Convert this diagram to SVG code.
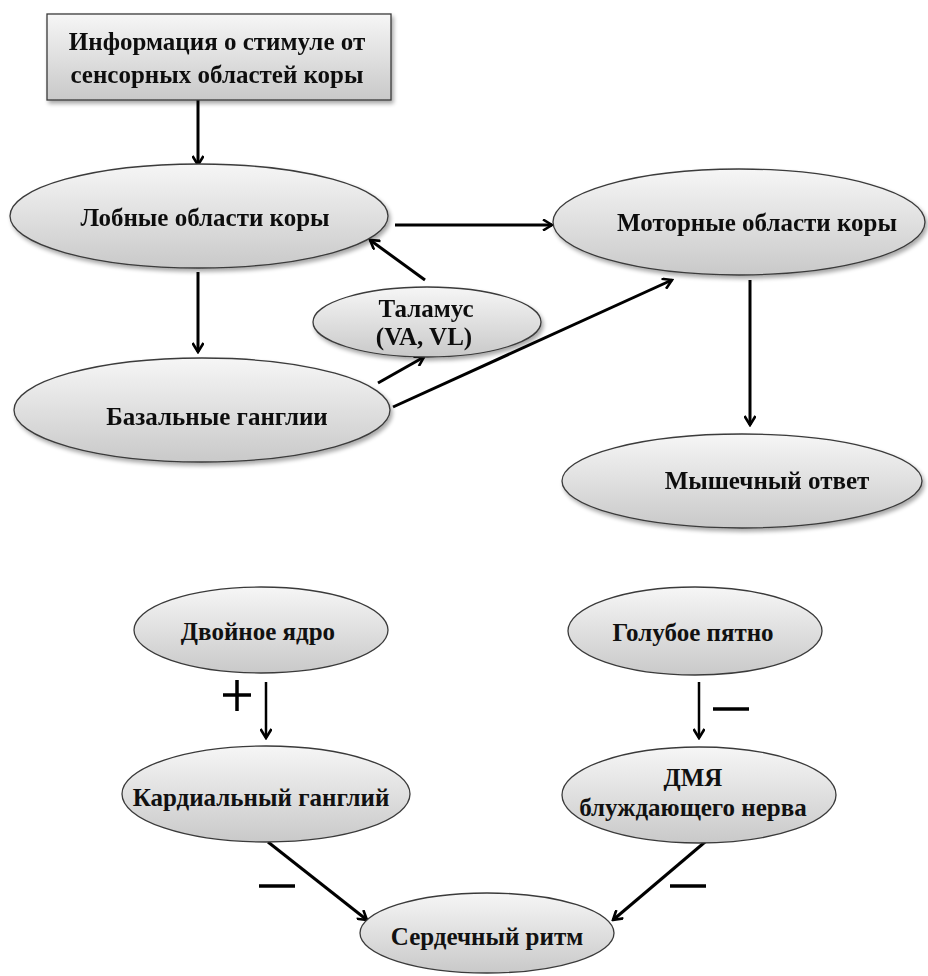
<svg xmlns="http://www.w3.org/2000/svg" width="928" height="976" viewBox="0 0 928 976">
<style>
.node{fill:url(#g);stroke:#3a3a3a;stroke-width:1.3}
.t{font-family:"Liberation Serif","Times New Roman",serif;font-weight:bold;font-size:25px;fill:#111;text-anchor:middle}
.c{stroke:#000;stroke-width:3;fill:none;marker-end:url(#a)}
.c2{stroke:#000;stroke-width:2.5;fill:none;marker-end:url(#a)}
.sign{stroke:#000;stroke-width:3.5;fill:none}
</style>
<defs>
<linearGradient id="g" x1="0" y1="0" x2="0" y2="1">
<stop offset="0" stop-color="#f6f6f6"/>
<stop offset="1" stop-color="#c9c9c9"/>
</linearGradient>
<marker id="a" viewBox="0 0 12 12" refX="10" refY="6" markerWidth="12" markerHeight="12" markerUnits="userSpaceOnUse" orient="auto">
<polyline points="1,0.5 10,6 1,11.5" fill="none" stroke="#000" stroke-width="2.6"/>
</marker>
<filter id="sh" x="-10%" y="-10%" width="120%" height="130%">
<feGaussianBlur in="SourceAlpha" stdDeviation="2"/>
<feOffset dx="2" dy="3"/>
<feComponentTransfer><feFuncA type="linear" slope="0.35"/></feComponentTransfer>
<feMerge><feMergeNode/><feMergeNode in="SourceGraphic"/></feMerge>
</filter>
</defs>
<rect width="928" height="976" fill="#fff"/>

<g id="connectors">
<line class="c" x1="198" y1="100" x2="198" y2="165"/>
<line class="c" x1="395" y1="225" x2="552" y2="225"/>
<line class="c" x1="198" y1="272" x2="198" y2="352"/>
<line class="c" x1="425" y1="280" x2="370" y2="240"/>
<line class="c" x1="378" y1="383" x2="424" y2="357"/>
<line class="c" x1="393" y1="407" x2="672" y2="280"/>
<line class="c" x1="750" y1="280" x2="750" y2="425"/>
<line class="c2" x1="266" y1="682" x2="266" y2="738"/>
<line class="c2" x1="699" y1="682" x2="699" y2="738"/>
<line class="c" x1="268" y1="842" x2="367" y2="920"/>
<line class="c" x1="705" y1="842" x2="613" y2="920"/>
</g>

<g id="signs">
<path class="sign" d="M223,695 H251 M237,680 V711"/>
<path class="sign" d="M713,709 H749"/>
<path class="sign" d="M259,886 H295"/>
<path class="sign" d="M670,886 H706"/>
</g>

<g id="n-info" filter="url(#sh)">
<rect class="node" x="47" y="14" width="344" height="86"/>
<text class="t" x="217" y="50">Информация о стимуле от</text>
<text class="t" x="217" y="83">сенсорных областей коры</text>
</g>
<g id="n-lobnye" filter="url(#sh)">
<ellipse class="node" cx="199" cy="216" rx="189" ry="52"/>
<text class="t" x="205" y="226">Лобные области коры</text>
</g>
<g id="n-motor" filter="url(#sh)">
<ellipse class="node" cx="739" cy="222" rx="186" ry="53"/>
<text class="t" x="757" y="231">Моторные области коры</text>
</g>
<g id="n-talamus" filter="url(#sh)">
<ellipse class="node" cx="427" cy="322" rx="114" ry="35"/>
<text class="t" x="426" y="317">Таламус</text>
<text class="t" x="424" y="345">(VA, VL)</text>
</g>
<g id="n-bazal" filter="url(#sh)">
<ellipse class="node" cx="202" cy="410" rx="188" ry="52"/>
<text class="t" x="217" y="425">Базальные ганглии</text>
</g>
<g id="n-muscle" filter="url(#sh)">
<ellipse class="node" cx="742" cy="481" rx="180" ry="47"/>
<text class="t" x="767" y="489">Мышечный ответ</text>
</g>
<g id="n-dvoinoe">
<ellipse class="node" cx="261" cy="630" rx="127" ry="43"/>
<text class="t" x="258" y="640">Двойное ядро</text>
</g>
<g id="n-goluboe">
<ellipse class="node" cx="695" cy="631" rx="127" ry="44"/>
<text class="t" x="693" y="641">Голубое пятно</text>
</g>
<g id="n-kardial">
<ellipse class="node" cx="266" cy="794" rx="144" ry="48"/>
<text class="t" x="261" y="806">Кардиальный ганглий</text>
</g>
<g id="n-dmya">
<ellipse class="node" cx="699" cy="795" rx="137" ry="48"/>
<text class="t" x="693" y="786">ДМЯ</text>
<text class="t" x="693" y="816">блуждающего нерва</text>
</g>
<g id="n-serd">
<ellipse class="node" cx="487" cy="933" rx="127" ry="40"/>
<text class="t" x="487" y="945">Сердечный ритм</text>
</g>
</svg>
